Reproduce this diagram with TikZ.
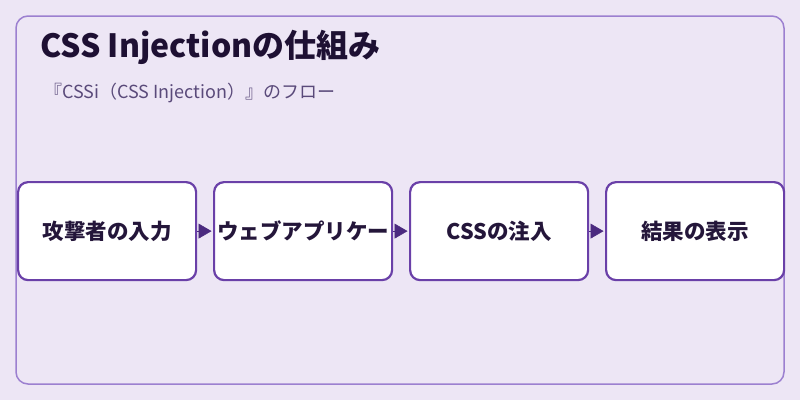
\documentclass[tikz,border=0pt]{standalone}
\usepackage{fontspec}
\setmainfont{Noto Sans CJK JP}
\usetikzlibrary{arrows.meta}
\definecolor{bgc}{HTML}{EDE6F5}
\definecolor{cardc}{HTML}{9C80D0}
\definecolor{boxc}{HTML}{6A40A8}
\definecolor{arrc}{HTML}{4B2A7F}
\definecolor{titlec}{HTML}{1E1033}
\definecolor{subc}{HTML}{5A4A7A}
\definecolor{textc}{HTML}{24163A}
\tikzset{
  stepbox/.style={draw=boxc, line width=2.2pt, fill=white, rounded corners=10pt,
    minimum width=178pt, minimum height=98pt, inner sep=0pt, anchor=north west,
    font=\fontsize{21.5}{26}\selectfont\bfseries, text=textc},
  flow/.style={-{Triangle[length=13pt,width=15pt]}, draw=arrc, fill=arrc, line width=0.5pt, shorten >=1.5pt}
}
\begin{document}
\begin{tikzpicture}[x=1pt,y=-1pt]
\useasboundingbox (0,0) rectangle (800,400);
\fill[bgc] (0,0) rectangle (800,400);
\draw[cardc, line width=1.5pt, rounded corners=12pt] (16,16) rectangle (784,384);
\node[anchor=base west, inner sep=0pt, text=titlec, font=\fontsize{32}{38}\selectfont\bfseries] (title) at (40,57) {CSS Injectionの仕組み};
\node[anchor=base west, inner sep=0pt, text=subc, font=\fontsize{18}{22}\selectfont] (sub) at (44,98) {『CSSi（CSS Injection）』のフロー};
\node[stepbox] (b1) at (17,181) {攻撃者の入力};
\node[stepbox] (b2) at (213,181) {ウェブアプリケー};
\node[stepbox] (b3) at (409,181) {CSSの注入};
\node[stepbox] (b4) at (605,181) {結果の表示};
\draw[flow] (b1.east) -- (b2.west);
\draw[flow] (b2.east) -- (b3.west);
\draw[flow] (b3.east) -- (b4.west);
\end{tikzpicture}
\end{document}
